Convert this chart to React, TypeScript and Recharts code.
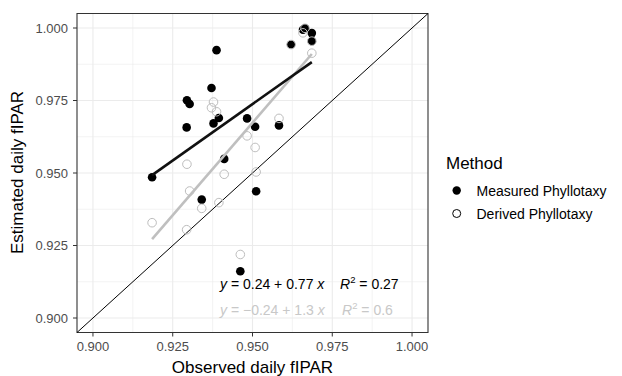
import React from "react";
import {
  ScatterChart,
  Scatter,
  XAxis,
  YAxis,
  CartesianGrid,
  ReferenceLine,
  ReferenceArea,
} from "recharts";

// Observed daily fIPAR (shared by both methods)
const observed = [
  0.93873, 0.96209, 0.96582, 0.96645, 0.96859, 0.96859, 0.93715, 0.92945,
  0.9303, 0.93946, 0.93778, 0.92936, 0.9483, 0.95082, 0.9583, 0.94113,
  0.91853, 0.95114, 0.93409, 0.94618,
];
// Estimated daily fIPAR – Measured Phyllotaxy
const measured = [
  0.99236, 0.99429, 0.99938, 0.9999, 0.99824, 0.99547, 0.97932, 0.97506,
  0.97378, 0.96894, 0.96711, 0.96572, 0.96883, 0.96593, 0.96641, 0.95486,
  0.94853, 0.94369, 0.94082, 0.91612,
];
// Estimated daily fIPAR – Derived Phyllotaxy
const derived = [
  0.97112, 0.99429, 0.99834, 0.9999, 0.99547, 0.99132, 0.9725, 0.95303,
  0.94379, 0.93978, 0.97447, 0.93044, 0.96281, 0.9588, 0.96883, 0.94957,
  0.93286, 0.95036, 0.93781, 0.9219,
];

const majorBreaks = [0.9, 0.925, 0.95, 0.975, 1.0];
const minorBreaks = [0.9125, 0.9375, 0.9625, 0.9875];
const axisDomain = [0.895, 1.005];

const legendTitle = "Method";
const seriesNames = ["Measured Phyllotaxy", "Derived Phyllotaxy"];
const eqMeasured = ["0.24 + 0.77", "0.27"];
const eqDerived = ["\u22120.24 + 1.3", "0.6"];

const FONT = "'Liberation Sans', Arial, sans-serif";

function fit(xs: number[], ys: number[]) {
  const n = xs.length;
  const mx = xs.reduce((s, v) => s + v, 0) / n;
  const my = ys.reduce((s, v) => s + v, 0) / n;
  let sxy = 0;
  let sxx = 0;
  for (let i = 0; i < n; i++) {
    sxy += (xs[i] - mx) * (ys[i] - my);
    sxx += (xs[i] - mx) * (xs[i] - mx);
  }
  const b = sxy / sxx;
  const a = my - b * mx;
  const x0 = Math.min(...xs);
  const x1 = Math.max(...xs);
  return [
    { x: x0, y: a + b * x0 },
    { x: x1, y: a + b * x1 },
  ];
}

const filledDot = (p: any) => (
  <circle cx={p.cx} cy={p.cy} r={4.3} fill="#000000" />
);
const openDot = (p: any) => (
  <circle
    cx={p.cx}
    cy={p.cy}
    r={4.3}
    fill="none"
    stroke="#bdbdbd"
    strokeWidth={1}
  />
);
const noDot = () => <g />;

export default function App() {
  const mData = observed.map((x, i) => ({ x, y: measured[i] }));
  const dData = observed.map((x, i) => ({ x, y: derived[i] }));
  const mLine = fit(observed, measured);
  const dLine = fit(observed, derived);
  const fmt = (v: number) => v.toFixed(3);
  const tickStyle = { fill: "#4d4d4d", fontSize: 13, fontFamily: FONT };

  return (
    <div
      style={{
        position: "absolute",
        left: 0,
        top: 0,
        width: 622,
        height: 376,
        background: "#ffffff",
      }}
    >
      <ScatterChart
        width={622}
        height={376}
        margin={{ top: 13.5, right: 194, bottom: 0, left: 0 }}
      >
        <CartesianGrid
          verticalValues={minorBreaks}
          horizontalValues={minorBreaks}
          stroke="#ebebeb"
          strokeWidth={0.6}
        />
        <CartesianGrid
          verticalValues={majorBreaks}
          horizontalValues={majorBreaks}
          stroke="#ebebeb"
          strokeWidth={1.1}
        />
        <XAxis
          type="number"
          dataKey="x"
          domain={axisDomain}
          allowDataOverflow
          ticks={majorBreaks}
          interval={0}
          tickFormatter={fmt}
          height={43.5}
          axisLine={false}
          tickLine={{ stroke: "#333333" }}
          tickSize={4}
          tickMargin={5}
          tick={tickStyle}
        />
        <YAxis
          type="number"
          dataKey="y"
          domain={axisDomain}
          allowDataOverflow
          ticks={majorBreaks}
          interval={0}
          tickFormatter={fmt}
          width={77}
          axisLine={false}
          tickLine={{ stroke: "#333333" }}
          tickSize={4}
          tickMargin={5}
          tick={tickStyle}
        />
        <ReferenceLine
          segment={[
            { x: axisDomain[0], y: axisDomain[0] },
            { x: axisDomain[1], y: axisDomain[1] },
          ]}
          stroke="#000000"
          strokeWidth={1}
        />
        <Scatter
          data={mData}
          shape={filledDot}
          isAnimationActive={false}
        />
        <Scatter data={dData} shape={openDot} isAnimationActive={false} />
        <Scatter
          data={dLine}
          line={{ stroke: "#bfbfbf", strokeWidth: 2.6 }}
          shape={noDot}
          isAnimationActive={false}
        />
        <Scatter
          data={mLine}
          line={{ stroke: "#111111", strokeWidth: 2.6 }}
          shape={noDot}
          isAnimationActive={false}
        />
        <ReferenceArea
          x1={axisDomain[0]}
          x2={axisDomain[1]}
          y1={axisDomain[0]}
          y2={axisDomain[1]}
          fill="none"
          fillOpacity={0}
          stroke="#333333"
          strokeWidth={1.1}
        />
      </ScatterChart>
      <svg
        width={622}
        height={376}
        style={{ position: "absolute", left: 0, top: 0, pointerEvents: "none" }}
      >
        <g fontFamily={FONT}>
          <text x={252.5} y={373} textAnchor="middle" fontSize={17} fill="#000">
            Observed daily fIPAR
          </text>
          <text
            x={0}
            y={0}
            transform="translate(23,172.5) rotate(-90)"
            textAnchor="middle"
            fontSize={17}
            fill="#000"
          >
            Estimated daily fIPAR
          </text>
          <text x={220} y={289} fontSize={14} fill="#000">
            <tspan fontStyle="italic">y</tspan> = {eqMeasured[0]}{" "}
            <tspan fontStyle="italic">x</tspan>
          </text>
          <text x={340} y={289} fontSize={14} fill="#000">
            <tspan fontStyle="italic">R</tspan>
            <tspan dy={-6} fontSize={9.5}>2</tspan>
            <tspan dy={6}> = {eqMeasured[1]}</tspan>
          </text>
          <text x={220} y={315} fontSize={14} fill="#c8c8c8">
            <tspan fontStyle="italic">y</tspan> = {eqDerived[0]}{" "}
            <tspan fontStyle="italic">x</tspan>
          </text>
          <text x={342} y={315} fontSize={14} fill="#c8c8c8">
            <tspan fontStyle="italic">R</tspan>
            <tspan dy={-6} fontSize={9.5}>2</tspan>
            <tspan dy={6}> = {eqDerived[1]}</tspan>
          </text>
          <text x={446} y={169} fontSize={17} fill="#000">
            {legendTitle}
          </text>
          <circle cx={456.7} cy={190.5} r={4.2} fill="#000" />
          <text x={476.5} y={196} fontSize={14} fill="#000">
            {seriesNames[0]}
          </text>
          <circle
            cx={456.7}
            cy={213.5}
            r={4}
            fill="none"
            stroke="#000"
            strokeWidth={1}
          />
          <text x={476.5} y={219} fontSize={14} fill="#000">
            {seriesNames[1]}
          </text>
        </g>
      </svg>
    </div>
  );
}
